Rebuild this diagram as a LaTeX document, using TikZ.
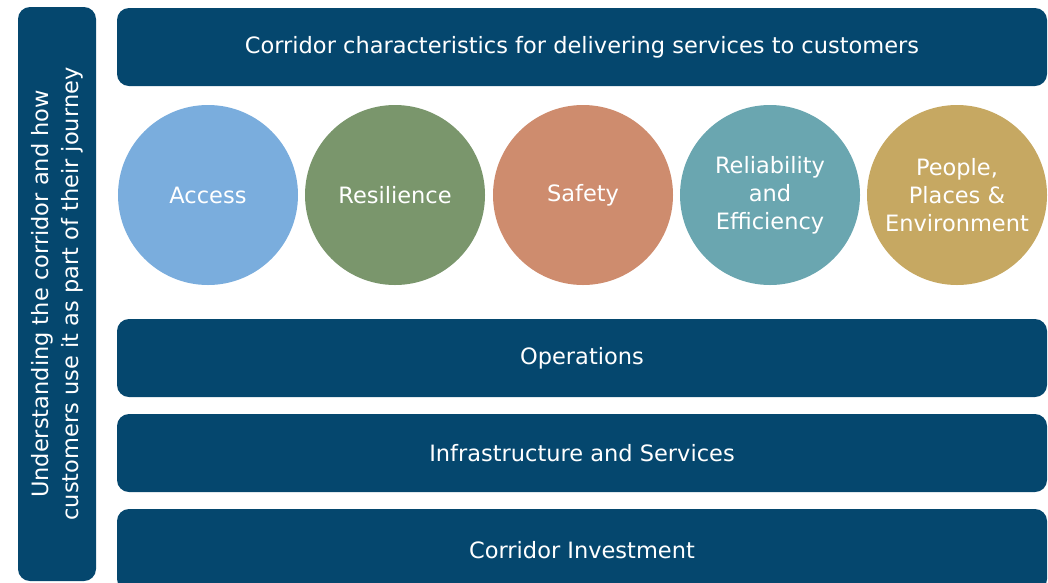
\documentclass[tikz,border=0pt]{standalone}
\usepackage{fontspec}
\setmainfont{DejaVu Sans}
\definecolor{navy}{RGB}{5,71,110}
\definecolor{accessblue}{RGB}{122,173,221}
\definecolor{resgreen}{RGB}{122,150,108}
\definecolor{safetyorange}{RGB}{206,140,110}
\definecolor{relteal}{RGB}{106,166,176}
\definecolor{peoplegold}{RGB}{198,168,98}
\tikzset{
  bar/.style={fill=navy, rounded corners=12pt, minimum width=930pt, minimum height=78pt, inner sep=0pt, text=white, font=\fontsize{22.5}{27}\selectfont},
  theme/.style={circle, fill=#1, minimum size=180pt, inner sep=0pt, text=white, align=center, font=\fontsize{22.5}{28}\selectfont}
}
\begin{document}
\begin{tikzpicture}[x=1pt,y=-1pt]
	\useasboundingbox (0,0) rectangle (1048,582);
	%side bar
	\node (side) at (57, 294) [bar, rotate=90, minimum width=574pt, minimum height=78pt, align=center, font=\fontsize{22.5}{30}\selectfont]{Understanding the corridor and how\\customers use it as part of their journey};
	
	%top bar
	\node (top) at (582, 47) [bar]{Corridor characteristics for delivering services to customers};
	
	%themes
	\node (access) at (208, 195) [theme=accessblue]{Access};
	\node (resilience) at (395, 195) [theme=resgreen]{Resilience};
	\node (safety) at (583, 195) [theme=safetyorange]{Safety};
	\node (reliability) at (770, 195) [theme=relteal]{Reliability\\and\\Efficiency};
	\node (people) at (957, 195) [theme=peoplegold]{People,\\Places \&\\Environment};
	
	%layers
	\node (operations) at (582, 358) [bar]{Operations};
	\node (infrastructure) at (582, 453) [bar]{Infrastructure and Services};
	\node (investment) at (582, 550) [bar, minimum height=82pt]{Corridor Investment};
\end{tikzpicture}
\end{document}
